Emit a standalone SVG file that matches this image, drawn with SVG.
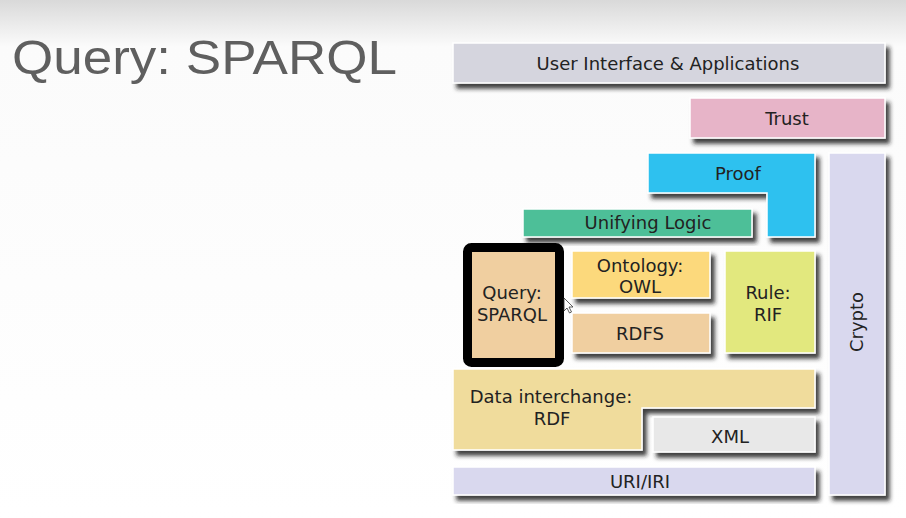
<svg xmlns="http://www.w3.org/2000/svg" width="906" height="518" viewBox="0 0 906 518">
<defs>
<linearGradient id="bg" x1="0" y1="0" x2="0" y2="1">
<stop offset="0" stop-color="#d9d9d9"/>
<stop offset="0.09" stop-color="#fbfbfb"/>
<stop offset="1" stop-color="#ffffff"/>
</linearGradient>
<filter id="sh" x="-10%" y="-10%" width="130%" height="140%">
<feDropShadow dx="4" dy="5" stdDeviation="2" flood-color="#1a1a1a" flood-opacity="0.85"/>
</filter>
</defs>
<style>
.b{stroke:#ffffff;stroke-width:1.5;filter:url(#sh)}
.t{font-family:"DejaVu Sans",Verdana,sans-serif;font-size:18px;fill:#222222;text-anchor:middle}
.title{font-family:"Liberation Sans",Arial,sans-serif;font-size:49px;fill:#5f5f5f}
</style>
<rect x="0" y="0" width="906" height="518" fill="url(#bg)"/>
<text class="title" x="12" y="74" textLength="385" lengthAdjust="spacingAndGlyphs">Query: SPARQL</text>

<g id="ui"><rect class="b" x="453" y="43" width="432" height="40" fill="#d5d5de"/><text class="t" x="668" y="70">User Interface &amp; Applications</text></g>
<g id="trust"><rect class="b" x="690" y="98" width="195" height="40" fill="#e7b4c8"/><text class="t" x="787" y="125">Trust</text></g>
<g id="proof"><path class="b" d="M648,153 H815 V237 H767 V193 H648 Z" fill="#2ec1ef"/><text class="t" x="738" y="180">Proof</text></g>
<g id="crypto"><rect class="b" x="829" y="153" width="56" height="342" fill="#d9d8ee"/><text class="t" transform="translate(863,322) rotate(-90)" x="0" y="0">Crypto</text></g>
<g id="logic"><rect class="b" x="523" y="209" width="229" height="28" fill="#4dbf98"/><text class="t" x="648" y="229">Unifying Logic</text></g>
<g id="query"><rect x="467.5" y="247.5" width="92" height="115" rx="4" fill="#f0cfa0" stroke="#000000" stroke-width="9"/><text class="t" x="512" y="299">Query:</text><text class="t" x="512" y="321">SPARQL</text></g>
<g id="owl"><rect class="b" x="572" y="251" width="138" height="47" fill="#fcd97c"/><text class="t" x="640" y="272">Ontology:</text><text class="t" x="640" y="293">OWL</text></g>
<g id="rdfs"><rect class="b" x="572" y="313" width="138" height="40" fill="#f0cfa0"/><text class="t" x="640" y="340">RDFS</text></g>
<g id="rule"><rect class="b" x="725" y="251" width="90" height="102" fill="#e2e87e"/><text class="t" x="768" y="299">Rule:</text><text class="t" x="768" y="321">RIF</text></g>
<g id="rdf"><path class="b" d="M453,369 H815 V408 H642 V450 H453 Z" fill="#f0dc9c"/><text class="t" x="551" y="403">Data interchange:</text><text class="t" x="552" y="425">RDF</text></g>
<g id="xml"><rect class="b" x="653" y="417" width="162" height="35" fill="#e8e8e8"/><text class="t" x="730" y="443">XML</text></g>
<g id="uri"><rect class="b" x="453" y="467" width="362" height="28" fill="#d9d8ee"/><text class="t" x="640" y="488">URI/IRI</text></g>
<g id="connectors"></g>
<path d="M564,298 L564,311 L567,308 L569.5,313 L571.5,312 L569,307 L573,307 Z" fill="#ffffff" stroke="#333333" stroke-width="0.8"/>
</svg>
